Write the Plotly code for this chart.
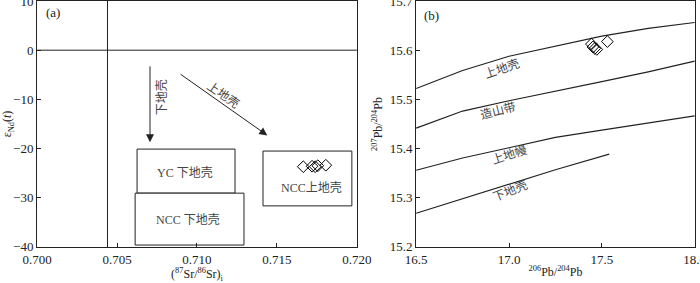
import plotly.graph_objects as go

# ---------------- Panel (a) data ----------------
sr_ticks = [0.700, 0.705, 0.710, 0.715, 0.720]
nd_ticks = [-40, -30, -20, -10, 0, 10]
a_sr = [0.71665, 0.71720, 0.71740, 0.71756, 0.71806]
a_nd = [-23.8, -23.7, -23.8, -23.6, -23.5]
bulk_sr = 0.7044
box_names = ["YC 下地壳", "NCC 下地壳", "NCC上地壳"]
box_x0 = [0.70625, 0.70613, 0.71413]
box_x1 = [0.71238, 0.71294, 0.71969]
box_y0 = [-29.2, -39.8, -31.8]
box_y1 = [-20.2, -29.2, -20.6]
box_lx = [0.70925, 0.70944, 0.71719]
box_ly = [-25.1, -34.7, -28.2]
arrow_lc = dict(x0=0.70706, y0=-3.0, x1=0.70706, y1=-18.8)
arrow_uc = dict(x0=0.70888, y0=-4.7, x1=0.71440, y1=-17.4)

# ---------------- Panel (b) data ----------------
pb_ticks_x = [16.5, 17.0, 17.5, 18.0]
pb_ticks_y = [15.2, 15.3, 15.4, 15.5, 15.6, 15.7]
uc_x = [16.5, 16.75, 17.0, 17.25, 17.5, 17.75, 18.0]
uc_y = [15.522, 15.559, 15.588, 15.608, 15.629, 15.645, 15.657]
or_x = [16.5, 16.75, 17.0, 17.25, 17.5, 17.75, 18.0]
or_y = [15.441, 15.476, 15.497, 15.516, 15.536, 15.556, 15.578]
um_x = [16.5, 16.75, 17.0, 17.25, 17.5, 17.75, 18.0]
um_y = [15.355, 15.380, 15.401, 15.422, 15.437, 15.452, 15.466]
lc_x = [16.5, 16.75, 17.0, 17.25, 17.54]
lc_y = [15.267, 15.297, 15.327, 15.356, 15.388]
b_206 = [17.444, 17.452, 17.462, 17.473, 17.530]
b_207 = [15.613, 15.607, 15.604, 15.602, 15.618]

FONT = "Liberation Serif, Times New Roman, Noto Sans CJK SC, serif"
CJK = "Liberation Serif, Noto Sans CJK SC, serif"
LC = "#222222"
TC = "#444444"

fig = go.Figure()

# reference lines in (a)
fig.add_trace(go.Scatter(x=[bulk_sr, bulk_sr], y=[-40.2, 10.05], mode="lines",
                         line=dict(color=LC, width=1), xaxis="x", yaxis="y",
                         showlegend=False, hoverinfo="skip"))
fig.add_trace(go.Scatter(x=[0.700, 0.720], y=[0, 0], mode="lines",
                         line=dict(color=LC, width=1), xaxis="x", yaxis="y",
                         showlegend=False, hoverinfo="skip"))
# boxes
for i in range(len(box_names)):
    fig.add_trace(go.Scatter(
        x=[box_x0[i], box_x1[i], box_x1[i], box_x0[i], box_x0[i]],
        y=[box_y0[i], box_y0[i], box_y1[i], box_y1[i], box_y0[i]],
        mode="lines", fill="toself", fillcolor="white",
        line=dict(color=LC, width=1), xaxis="x", yaxis="y",
        showlegend=False, hoverinfo="skip"))
fig.add_trace(go.Scatter(x=a_sr, y=a_nd, mode="markers",
                         marker=dict(symbol="diamond-open", size=9, color="black",
                                     line=dict(width=1)),
                         xaxis="x", yaxis="y", showlegend=False))

# curves in (b)
for cx, cy in [(uc_x, uc_y), (or_x, or_y), (um_x, um_y), (lc_x, lc_y)]:
    fig.add_trace(go.Scatter(x=cx, y=cy, mode="lines", line=dict(color=LC, width=1.2),
                             xaxis="x2", yaxis="y2", showlegend=False, hoverinfo="skip"))
fig.add_trace(go.Scatter(x=b_206, y=b_207, mode="markers",
                         marker=dict(symbol="diamond-open", size=9, color="black",
                                     line=dict(width=1)),
                         xaxis="x2", yaxis="y2", showlegend=False))

ann = []
for i, name in enumerate(box_names):
    ann.append(dict(x=box_lx[i], y=box_ly[i], xref="x", yref="y", text=name,
                    showarrow=False, font=dict(family=CJK, size=12, color=TC)))
for ar in (arrow_lc, arrow_uc):
    ann.append(dict(x=ar["x1"], y=ar["y1"], ax=ar["x0"], ay=ar["y0"],
                    xref="x", yref="y", axref="x", ayref="y", text="",
                    showarrow=True, arrowhead=2, arrowsize=1.6, arrowwidth=1,
                    arrowcolor=LC))
ann.append(dict(x=0.70781, y=-9.6, xref="x", yref="y", text="下地壳", textangle=-90,
                showarrow=False, font=dict(family=CJK, size=12, color=TC)))
ann.append(dict(x=0.71163, y=-9.2, xref="x", yref="y", text="上地壳", textangle=35,
                showarrow=False, font=dict(family=CJK, size=12, color=TC)))
ann.append(dict(x=0.7004, y=7.6, xref="x", yref="y", text="(a)", xanchor="left",
                showarrow=False, font=dict(family=FONT, size=13, color=LC)))
ann.append(dict(x=16.532, y=15.672, xref="x2", yref="y2", text="(b)", xanchor="left",
                showarrow=False, font=dict(family=FONT, size=13, color=LC)))
for txt, x, y, ang in [("上地壳", 16.962, 15.562, -19), ("造山带", 16.94, 15.476, -14),
                       ("上地幔", 17.0, 15.388, -18), ("下地壳", 17.005, 15.313, -22)]:
    ann.append(dict(x=x, y=y, xref="x2", yref="y2", text=txt, textangle=ang,
                    showarrow=False, font=dict(family=CJK, size=12, color=TC)))

axis_common = dict(showline=True, linecolor=LC, linewidth=1, mirror=True,
                   ticks="inside", ticklen=4, tickcolor=LC, showgrid=False,
                   zeroline=False, automargin=False, ticklabeloverflow="allow",
                   tickfont=dict(family=FONT, size=13, color=LC))

fig.update_layout(
    width=700, height=283,
    margin=dict(l=37, r=5, t=1, b=36),
    paper_bgcolor="white", plot_bgcolor="white",
    font=dict(family=FONT, color=LC),
    annotations=ann,
    xaxis=dict(domain=[0, 0.4863], range=[0.69999, 0.72001], tickvals=sr_ticks,
               ticktext=[f"{v:.3f}" for v in sr_ticks],
               title=dict(text="(<sup>87</sup>Sr/<sup>86</sup>Sr)<sub>i</sub>",
                          font=dict(size=12), standoff=2),
               **axis_common),
    yaxis=dict(domain=[0, 1], range=[-40.2, 10.05], tickvals=nd_ticks,
               title=dict(text="ε<sub>Nd</sub>(<i>t</i>)", font=dict(size=12), standoff=4),
               **axis_common),
    xaxis2=dict(domain=[0.576, 1], range=[16.499, 18.002], tickvals=pb_ticks_x,
                ticktext=[f"{v:.1f}" for v in pb_ticks_x], anchor="y2",
                title=dict(text="<sup>206</sup>Pb/<sup>204</sup>Pb",
                           font=dict(size=12), standoff=2),
                **axis_common),
    yaxis2=dict(domain=[0, 1], range=[15.198, 15.701], tickvals=pb_ticks_y,
                ticktext=[f"{v:.1f}" for v in pb_ticks_y], anchor="x2",
                title=dict(text="<sup>207</sup>Pb/<sup>204</sup>Pb",
                           font=dict(size=12), standoff=4),
                **axis_common),
)

fig.write_html("out.html", config={"displayModeBar": False},
               post_script="document.body.style.margin='0';document.body.style.overflow='hidden';")
